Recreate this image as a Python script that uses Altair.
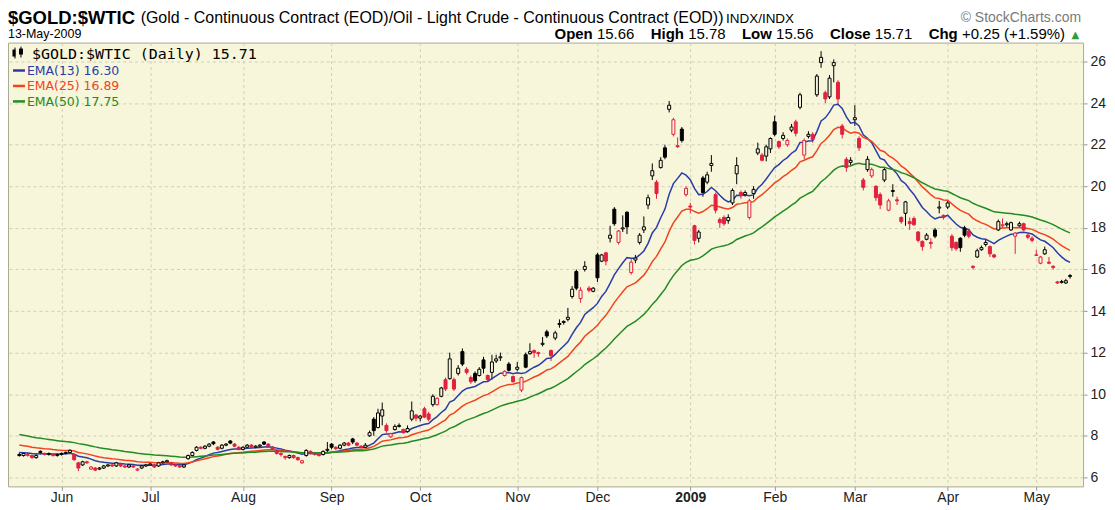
import altair as alt
import numpy as np
import pandas as pd

# ---------------- data (daily candles, May-16-2008 .. May-13-2009)
opens = [
    7.10, 7.05, 7.05, 7.05, 6.95, 7.25, 7.15, 7.10, 7.10, 7.05,
    7.10, 7.15, 7.20, 7.10, 6.70, 6.60, 6.75, 6.40, 6.45, 6.40,
    6.45, 6.55, 6.60, 6.55, 6.65, 6.55, 6.50, 6.55, 6.35, 6.45,
    6.55, 6.60, 6.60, 6.55, 6.70, 6.75, 6.70, 6.60, 6.55, 6.50,
    6.90, 7.05, 7.30, 7.45, 7.40, 7.50, 7.70, 7.45, 7.40, 7.55,
    7.75, 7.60, 7.45, 7.35, 7.45, 7.55, 7.45, 7.50, 7.70, 7.60,
    7.45, 7.30, 7.15, 7.00, 6.95, 7.05, 6.95, 6.70, 7.05, 7.25,
    7.15, 7.10, 7.10, 7.30, 7.60, 7.45, 7.40, 7.55, 7.65, 7.85,
    7.65, 7.50, 7.45, 8.00, 8.80, 8.40, 8.95, 8.50, 7.95, 8.30,
    8.45, 8.30, 8.20, 8.80, 9.00, 8.85, 9.30, 9.05, 9.50, 9.50,
    9.90, 10.70, 10.75, 10.70, 11.00, 12.05, 11.20, 10.80, 11.00, 10.90,
    11.65, 10.90, 11.05, 11.60, 11.75, 10.90, 11.45, 10.85, 11.20, 10.20,
    11.90, 11.95, 12.10, 12.00, 12.40, 13.00, 12.10, 12.70, 13.35, 13.45,
    13.60, 14.70, 15.90, 14.60, 16.00, 15.10, 14.95, 16.70, 16.40, 16.80,
    17.50, 18.90, 17.30, 17.95, 18.75, 15.85, 16.45, 17.30, 17.90, 19.10,
    20.50, 20.20, 20.90, 21.85, 23.70, 22.50, 21.95, 22.75, 19.60, 19.05,
    18.10, 17.50, 20.40, 20.20, 21.00, 19.60, 18.40, 18.50, 18.35, 19.20,
    20.60, 19.70, 19.60, 18.50, 19.65, 21.60, 21.50, 21.45, 21.80, 23.10,
    22.15, 22.30, 22.00, 22.70, 23.10, 23.80, 21.50, 22.40, 22.50, 24.40,
    25.95, 24.50, 24.30, 25.80, 25.00, 22.90, 21.30, 21.15, 23.20, 22.30,
    20.30, 20.80, 20.50, 20.00, 19.60, 20.30, 18.85, 19.75, 19.35, 18.50,
    18.70, 18.30, 18.45, 17.80, 17.35, 17.45, 17.30, 17.90, 18.95, 18.60,
    19.00, 17.60, 17.30, 17.50, 18.00, 17.85, 16.15, 16.60, 16.95, 17.20,
    17.10, 16.70, 17.90, 18.10, 18.15, 17.90, 17.60, 18.10, 18.20, 17.65,
    17.50, 16.70, 16.30, 16.75, 16.35, 16.15, 15.40, 15.38, 15.35, 15.66,
]
highs = [
    7.20, 7.20, 7.20, 7.10, 7.15, 7.30, 7.20, 7.20, 7.15, 7.15,
    7.20, 7.25, 7.35, 7.15, 6.75, 6.80, 6.80, 6.55, 6.50, 6.50,
    6.60, 6.65, 6.65, 6.75, 6.70, 6.60, 6.65, 6.60, 6.45, 6.60,
    6.65, 6.70, 6.65, 6.75, 6.80, 6.85, 6.75, 6.65, 6.60, 6.65,
    7.10, 7.25, 7.50, 7.50, 7.55, 7.65, 7.75, 7.50, 7.60, 7.65,
    7.80, 7.65, 7.50, 7.50, 7.60, 7.60, 7.55, 7.60, 7.75, 7.65,
    7.50, 7.35, 7.20, 7.05, 7.10, 7.10, 7.00, 6.85, 7.35, 7.30,
    7.20, 7.15, 7.30, 7.70, 7.65, 7.50, 7.60, 7.70, 7.70, 7.90,
    7.70, 7.55, 7.65, 8.25, 8.90, 9.30, 9.60, 8.60, 8.15, 8.55,
    8.60, 8.35, 8.50, 9.65, 9.05, 9.00, 9.40, 9.15, 10.00, 9.85,
    10.35, 10.80, 12.00, 10.80, 11.40, 12.20, 11.30, 10.90, 11.10, 11.30,
    11.80, 10.95, 11.90, 11.90, 12.00, 11.15, 11.55, 10.90, 11.55, 10.85,
    12.00, 12.45, 12.15, 12.05, 12.75, 13.10, 12.15, 13.05, 13.60, 13.55,
    14.15, 15.20, 16.00, 15.15, 16.40, 15.20, 15.15, 16.80, 16.75, 16.85,
    18.10, 19.00, 17.90, 18.60, 18.80, 16.50, 16.70, 17.75, 18.55, 19.60,
    21.10, 20.30, 21.40, 22.00, 24.10, 23.30, 22.35, 22.85, 20.00, 19.20,
    18.15, 17.90, 20.50, 20.70, 21.50, 19.70, 18.50, 18.60, 18.65, 19.90,
    21.40, 19.80, 19.80, 19.40, 20.00, 22.10, 21.60, 22.00, 22.35, 23.40,
    22.20, 22.60, 22.30, 23.00, 23.20, 24.50, 22.30, 22.65, 22.60, 25.40,
    26.50, 24.60, 25.35, 26.10, 25.10, 23.00, 21.40, 21.40, 23.90, 22.40,
    20.40, 21.45, 20.90, 20.05, 19.70, 20.90, 19.40, 20.10, 19.50, 18.55,
    19.30, 18.50, 18.55, 17.85, 17.40, 17.75, 17.50, 18.00, 19.30, 18.65,
    19.30, 17.70, 17.35, 17.55, 18.10, 17.95, 16.20, 17.00, 17.15, 17.45,
    17.15, 16.75, 18.40, 18.45, 18.30, 18.30, 17.80, 18.30, 18.25, 17.70,
    17.60, 16.95, 16.65, 17.10, 16.60, 16.20, 15.45, 15.50, 15.55, 15.78,
]
lows = [
    7.00, 7.00, 7.00, 6.90, 6.90, 7.10, 7.05, 7.05, 7.00, 7.00,
    7.05, 7.10, 7.15, 6.80, 6.30, 6.55, 6.65, 6.35, 6.30, 6.35,
    6.40, 6.50, 6.50, 6.50, 6.50, 6.45, 6.45, 6.45, 6.30, 6.40,
    6.50, 6.55, 6.45, 6.50, 6.65, 6.70, 6.55, 6.50, 6.45, 6.45,
    6.85, 7.00, 7.25, 7.35, 7.35, 7.45, 7.55, 7.30, 7.35, 7.50,
    7.60, 7.45, 7.30, 7.30, 7.40, 7.40, 7.40, 7.45, 7.55, 7.45,
    7.30, 7.10, 7.00, 6.85, 6.90, 6.90, 6.80, 6.65, 7.00, 7.10,
    7.05, 7.00, 7.05, 7.20, 7.35, 7.30, 7.35, 7.50, 7.50, 7.60,
    7.50, 7.40, 7.40, 7.95, 8.00, 8.35, 8.50, 8.15, 7.90, 8.25,
    8.40, 8.10, 8.15, 8.70, 8.70, 8.70, 8.85, 8.70, 9.40, 9.45,
    9.85, 10.15, 10.70, 10.15, 10.90, 11.35, 10.95, 10.50, 10.55, 10.85,
    11.00, 10.60, 10.70, 11.50, 11.60, 10.85, 11.10, 10.55, 11.10, 10.10,
    11.25, 11.90, 11.75, 11.80, 12.30, 12.70, 11.60, 12.60, 13.20, 13.35,
    13.50, 14.60, 15.00, 14.40, 15.90, 14.90, 14.90, 15.40, 16.35, 16.20,
    17.30, 18.10, 17.20, 17.80, 17.70, 15.75, 16.30, 17.20, 17.75, 18.90,
    20.30, 19.40, 20.85, 21.30, 23.55, 22.40, 21.85, 22.10, 19.50, 18.70,
    17.20, 17.30, 19.50, 20.10, 20.70, 18.70, 18.00, 18.10, 18.20, 19.10,
    20.10, 19.40, 19.50, 18.40, 19.40, 21.50, 21.20, 21.20, 21.60, 22.40,
    21.80, 22.20, 21.90, 22.60, 22.40, 23.70, 21.30, 22.30, 22.10, 24.30,
    25.70, 24.00, 24.20, 25.00, 23.90, 22.30, 20.70, 21.00, 22.90, 21.70,
    19.80, 20.70, 20.40, 19.30, 18.90, 20.20, 18.80, 19.50, 19.10, 18.20,
    18.10, 17.90, 18.10, 17.30, 16.90, 17.40, 17.00, 17.50, 18.70, 18.40,
    18.90, 16.90, 16.90, 16.85, 17.55, 17.50, 16.00, 16.55, 16.90, 17.10,
    16.60, 16.55, 17.85, 18.00, 18.05, 17.85, 16.75, 18.05, 17.85, 17.45,
    17.30, 16.65, 16.25, 16.70, 16.25, 16.00, 15.30, 15.32, 15.30, 15.56,
]
closes = [
    7.05, 7.15, 7.10, 6.95, 7.05, 7.20, 7.10, 7.15, 7.05, 7.10,
    7.15, 7.20, 7.30, 6.85, 6.45, 6.75, 6.70, 6.50, 6.35, 6.45,
    6.55, 6.60, 6.55, 6.70, 6.55, 6.50, 6.60, 6.50, 6.40, 6.55,
    6.60, 6.65, 6.50, 6.70, 6.75, 6.80, 6.60, 6.55, 6.50, 6.60,
    7.05, 7.20, 7.45, 7.40, 7.50, 7.60, 7.62, 7.35, 7.55, 7.60,
    7.65, 7.50, 7.35, 7.45, 7.55, 7.45, 7.50, 7.55, 7.60, 7.50,
    7.35, 7.15, 7.10, 6.95, 7.05, 6.95, 6.85, 6.80, 7.30, 7.15,
    7.10, 7.05, 7.25, 7.35, 7.45, 7.38, 7.55, 7.65, 7.55, 7.70,
    7.55, 7.45, 7.55, 8.15, 8.25, 9.10, 9.25, 8.25, 8.10, 8.45,
    8.50, 8.15, 8.35, 9.20, 8.85, 8.95, 8.90, 8.80, 9.90, 9.80,
    10.30, 10.25, 11.70, 10.25, 11.25, 11.45, 11.05, 10.60, 10.65, 11.20,
    11.25, 10.70, 11.55, 11.70, 11.80, 11.10, 11.15, 10.60, 11.30, 10.80,
    11.30, 12.05, 12.00, 11.95, 12.45, 12.80, 11.85, 12.95, 13.40, 13.50,
    13.70, 15.05, 15.10, 15.00, 16.15, 15.00, 15.10, 15.60, 16.70, 16.40,
    17.65, 18.20, 17.85, 18.00, 18.05, 16.35, 16.55, 17.65, 18.05, 19.45,
    20.75, 19.65, 21.25, 21.40, 23.90, 23.20, 21.90, 22.20, 19.90, 19.00,
    17.40, 17.80, 19.70, 20.55, 21.10, 18.85, 18.25, 18.20, 18.50, 19.80,
    21.00, 19.55, 19.70, 19.30, 19.85, 21.80, 21.25, 21.90, 22.30, 22.50,
    21.90, 22.45, 22.20, 22.85, 22.55, 24.40, 22.20, 22.50, 22.25, 25.30,
    26.20, 24.20, 25.20, 25.95, 24.20, 22.50, 20.90, 21.25, 23.30, 21.85,
    19.95, 21.30, 20.80, 19.45, 19.10, 20.80, 19.30, 19.80, 19.30, 18.30,
    19.25, 18.20, 18.15, 17.40, 17.10, 17.65, 17.25, 17.60, 19.00, 18.50,
    19.20, 17.05, 17.00, 17.05, 17.65, 17.60, 16.10, 16.90, 17.05, 17.30,
    16.75, 16.60, 18.30, 18.15, 18.20, 18.25, 17.75, 18.20, 17.90, 17.55,
    17.40, 16.68, 16.60, 16.95, 16.30, 16.10, 15.35, 15.42, 15.46, 15.71,
]

month_starts = [10, 31, 53, 74, 95, 118, 137, 159, 179, 198, 220, 241]
month_names = ["Jun", "Jul", "Aug", "Sep", "Oct", "Nov", "Dec", "2009", "Feb", "Mar", "Apr", "May"]
price_ticks = [6, 8, 10, 12, 14, 16, 18, 20, 22, 24, 26]
ema_periods = [13, 25, 50]
ema_seed = [7.22, 7.60, 8.10]  # EMA levels read at the chart's left edge

# ---------------- styling
W, H = 1078, 445
BG = "#F7F6DA"
GRID = "#CFCFBA"
BORDER = "#A9A994"
INK = "#000000"
RED = "#E3213F"
EMA_COLORS = ["#2A3CA8", "#F2431F", "#228B22"]
SANS = "Liberation Sans, Arial, sans-serif"
NARROW = "Liberation Sans Narrow, Arial Narrow, Liberation Sans, sans-serif"
MONO = "DejaVu Sans Mono, monospace"
VERD = "DejaVu Sans, Verdana, sans-serif"


def ema(values, n, seed):
    k = 2.0 / (n + 1)
    out, e = [], seed
    for v in values:
        e = k * v + (1 - k) * e
        out.append(e)
    return out


n = len(closes)
prev = [closes[0]] + closes[:-1]
cols = [INK if (k == 0 or c >= p) else RED for k, (c, p) in enumerate(zip(closes, prev))]
fills = [col if c < o else BG for col, c, o in zip(cols, closes, opens)]
df = pd.DataFrame({"i": np.arange(n), "o": opens, "h": highs, "l": lows, "c": closes,
                   "col": cols, "fil": fills})
for p, s in zip(ema_periods, ema_seed):
    df[f"ema{p}"] = ema(closes, p, s)

xscale = alt.Scale(domain=[-1.5, 250.9], nice=False, zero=False)
yscale = alt.Scale(domain=[5.568, 26.911], nice=False, zero=False)

label_expr = ("[" + ",".join(f"'{m}'" for m in month_names) + "][indexof(["
              + ",".join(str(v) for v in month_starts) + "], datum.value)]")

x_axis = alt.Axis(values=month_starts, labelExpr=label_expr, title=None, domain=False,
                  grid=True, gridColor=GRID, gridDash=[3, 3], gridWidth=1,
                  tickSize=4, tickColor="#9A9A8A", labelPadding=0, labelAngle=0,
                  labelFont=NARROW, labelFontSize=14, labelColor="#222222",
                  labelFontWeight={"condition": {"test": "datum.value == 159", "value": "bold"},
                                   "value": "normal"})
y_axis = alt.Axis(orient="right", values=price_ticks, title=None, domain=False,
                  grid=True, gridColor=GRID, gridDash=[3, 3], gridWidth=1,
                  tickSize=4, tickColor="#9A9A8A", labelPadding=3,
                  labelFont=SANS, labelFontSize=14, labelColor="#222222")

X = alt.X("i:Q", scale=xscale, axis=x_axis)

base = alt.Chart(df)
wicks = base.mark_rule(strokeWidth=1).encode(
    x=X, y=alt.Y("l:Q", scale=yscale, axis=y_axis), y2="h:Q",
    color=alt.Color("col:N", scale=None))
bodies = base.mark_bar(size=3, strokeWidth=1).encode(
    x=X, y=alt.Y("o:Q", scale=yscale, axis=y_axis), y2="c:Q",
    fill=alt.Fill("fil:N", scale=None), stroke=alt.Stroke("col:N", scale=None))
lines = [base.mark_line(color=c, strokeWidth=1.5).encode(
    x=X, y=alt.Y(f"ema{p}:Q", scale=yscale, axis=y_axis))
    for p, c in zip(ema_periods, EMA_COLORS)]


def txt(s, x, y, size, weight="normal", color="#000000", font=SANS, align="left"):
    return alt.Chart(pd.DataFrame({"t": [s]})).mark_text(
        align=align, baseline="alphabetic", fontSize=size, fontWeight=weight,
        color=color, font=font).encode(x=alt.value(x), y=alt.value(y), text="t:N")


def seg(x1, x2, y, color, width=2.5):
    return alt.Chart(pd.DataFrame({"t": [0]})).mark_rule(color=color, strokeWidth=width).encode(
        x=alt.value(x1), x2=alt.value(x2), y=alt.value(y))


def vseg(x, y1, y2, color, width=1):
    return alt.Chart(pd.DataFrame({"t": [0]})).mark_rule(color=color, strokeWidth=width).encode(
        x=alt.value(x), y=alt.value(y1), y2=alt.value(y2))


# header (coordinates relative to the plot's top-left corner)
header = [
    txt("$GOLD:$WTIC", 0, -18.5, 18.5, "bold"),
    txt("(Gold - Continuous Contract (EOD)/Oil - Light Crude - Continuous Contract (EOD))", 133, -20, 16),
    txt("INDX/INDX", 720, -20, 13.5),
    txt("\u00a9 StockCharts.com", 1076, -20.5, 14, color="#7A7A7A", align="right"),
    txt("13-May-2009", 0, -4.5, 12.5),
    txt("Open", 548, -4, 15, "bold"),
    txt("15.66", 590.5, -4, 15),
    txt("High", 644.5, -4, 15, "bold"),
    txt("15.78", 682, -4, 15),
    txt("Low", 736, -4, 15, "bold"),
    txt("15.56", 770.2, -4, 15),
    txt("Close", 824.2, -4, 15, "bold"),
    txt("15.71", 869.2, -4, 15),
    txt("Chg", 923.2, -4, 15, "bold"),
    txt("+0.25 (+1.59%)", 956.6, -4, 15),
    txt("\u25b2", 1074, -5, 10, color="#2E9E3A", font=VERD, align="right"),
]

# in-chart legend
legend = [
    vseg(7, 5, 16, INK, 1), vseg(6, 7, 14, INK, 3),
    vseg(13, 4, 15, INK, 1), vseg(13, 6, 12, INK, 4),
    txt("$GOLD:$WTIC (Daily) 15.71", 24, 16.5, 15, font=MONO),
    seg(5, 17, 28, EMA_COLORS[0]), txt("EMA(13) 16.30", 19, 32.5, 12.5, color=EMA_COLORS[0], font=VERD),
    seg(5, 17, 43.5, EMA_COLORS[1]), txt("EMA(25) 16.89", 19, 48, 12.5, color=EMA_COLORS[1], font=VERD),
    seg(5, 17, 59, EMA_COLORS[2]), txt("EMA(50) 17.75", 19, 63.5, 12.5, color=EMA_COLORS[2], font=VERD),
]

chart = alt.layer(wicks, *lines, bodies, *header, *legend).properties(
    width=W, height=H,
    padding={"left": 0, "top": 34, "right": 24, "bottom": 21},
    autosize=alt.AutoSizeParams(type="none"),
).configure_view(fill=BG, stroke=BORDER, strokeWidth=1)

chart.save("out.html", embed_options={"renderer": "svg", "actions": False})
